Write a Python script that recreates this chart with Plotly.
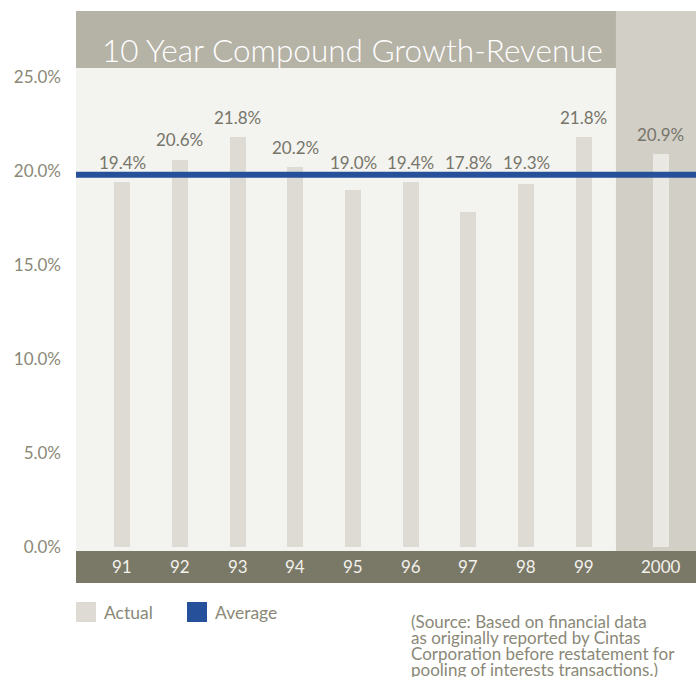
import plotly.graph_objects as go

years = ["91", "92", "93", "94", "95", "96", "97", "98", "99", "2000"]
growth = [19.4, 20.6, 21.8, 20.2, 19.0, 19.4, 17.8, 19.3, 21.8, 20.9]
average = 19.8
y_ticks = [0, 5, 10, 15, 20, 25]
y_tick_labels = ["0.0%", "5.0%", "10.0%", "15.0%", "20.0%", "25.0%"]
x_pos = [0, 1, 2, 3, 4, 5, 6, 7, 8, 9.333]
source_lines = [
    "(Source: Based on financial data",
    "as originally reported by Cintas",
    "Corporation before restatement for",
    "pooling of interests transactions.)",
]

FONT = "Lato"
BAR = "#dedbd5"
BAR_2000 = "#e9e8e3"
PLOT_BG = "#f3f3ef"
TITLE_BG = "#b5b2a6"
COL_2000 = "#d2cfc7"
BAND = "#7a7866"
BLUE = "#26509a"
TXT = "#8a8877"
VAL = "#77756a"

Y_MIN, Y_MAX = -1.915, 28.51
X_MIN, X_MAX = -0.797, 9.94
PX_PER_UNIT = 18.8  # vertical pixels per 1% on the y axis


def px_x(p):
    return (p - 76) / 620


def px_y(p):
    return (583 - p) / 572


fig = go.Figure()
fig.add_trace(go.Bar(
    x=x_pos, y=growth, width=0.277,
    marker=dict(color=[BAR] * 9 + [BAR_2000], line=dict(width=0)),
    hoverinfo="skip", showlegend=False,
))
fig.add_trace(go.Scatter(
    x=[X_MIN, X_MAX], y=[average, average], mode="lines",
    line=dict(color=BLUE, width=6), hoverinfo="skip", showlegend=False,
))

shapes = [
    dict(type="rect", xref="x", yref="paper", x0=8.554, x1=X_MAX, y0=0, y1=1,
         fillcolor=COL_2000, line=dict(width=0), layer="below"),
    dict(type="rect", xref="x", yref="y", x0=X_MIN, x1=8.554, y0=25.48, y1=Y_MAX,
         fillcolor=TITLE_BG, line=dict(width=0), layer="below"),
    dict(type="rect", xref="paper", yref="y", x0=0, x1=1, y0=Y_MIN, y1=-0.213,
         fillcolor=BAND, line=dict(width=0), layer="above"),
    dict(type="rect", xref="paper", yref="paper", x0=px_x(76), x1=px_x(96), y0=px_y(622), y1=px_y(602),
         fillcolor=BAR, line=dict(width=0)),
    dict(type="rect", xref="paper", yref="paper", x0=px_x(187), x1=px_x(207), y0=px_y(622), y1=px_y(602),
         fillcolor=BLUE, line=dict(width=0)),
]

annotations = []
for xp, v in zip(x_pos, growth):
    # label sits ~20px above the bar, but never overlapping the average line
    ly = max(v + 20 / PX_PER_UNIT, average + 12 / PX_PER_UNIT)
    annotations.append(dict(x=xp, y=ly, xref="x", yref="y", text=f"{v:.1f}%", showarrow=False,
                            yanchor="middle", font=dict(family=FONT, size=17, color=VAL)))
for xp, lab in zip(x_pos, years):
    annotations.append(dict(x=xp, y=-1.06, xref="x", yref="y", text=lab, showarrow=False,
                            yanchor="middle", font=dict(family=FONT, size=17, color="#f2f1ec")))
annotations += [
    dict(x=px_x(352), y=px_y(50), xref="paper", yref="paper", text="10 Year Compound Growth-Revenue",
         showarrow=False, xanchor="center", yanchor="middle",
         font=dict(family=FONT, size=31.5, color="#ffffff", weight=300)),
    dict(x=px_x(102), y=px_y(612), xref="paper", yref="paper", text="Actual", showarrow=False,
         xanchor="left", yanchor="middle", font=dict(family=FONT, size=17.5, color=TXT)),
    dict(x=px_x(213), y=px_y(612), xref="paper", yref="paper", text="Average", showarrow=False,
         xanchor="left", yanchor="middle", font=dict(family=FONT, size=17.5, color=TXT)),
]
for i, line in enumerate(source_lines):
    annotations.append(dict(x=px_x(409), y=px_y(621 + 16 * i), xref="paper", yref="paper",
                            text=line, showarrow=False, xanchor="left", yanchor="middle",
                            font=dict(family=FONT, size=17, color=TXT)))

fig.update_layout(
    width=696, height=677,
    margin=dict(l=76, r=0, t=11, b=94, pad=0),
    paper_bgcolor="#ffffff", plot_bgcolor=PLOT_BG,
    bargap=0, showlegend=False,
    xaxis=dict(range=[X_MIN, X_MAX], showgrid=False, zeroline=False, showticklabels=False,
               fixedrange=True),
    yaxis=dict(range=[Y_MIN, Y_MAX], showgrid=False, zeroline=False, tickvals=y_ticks,
               ticktext=y_tick_labels, ticks="", ticklabelstandoff=14,
               tickfont=dict(family=FONT, size=17, color=TXT), fixedrange=True),
    shapes=shapes, annotations=annotations,
)

fig.write_html("out.html", config={"displayModeBar": False},
               post_script="document.body.style.margin='0';document.body.style.overflow='hidden';")
